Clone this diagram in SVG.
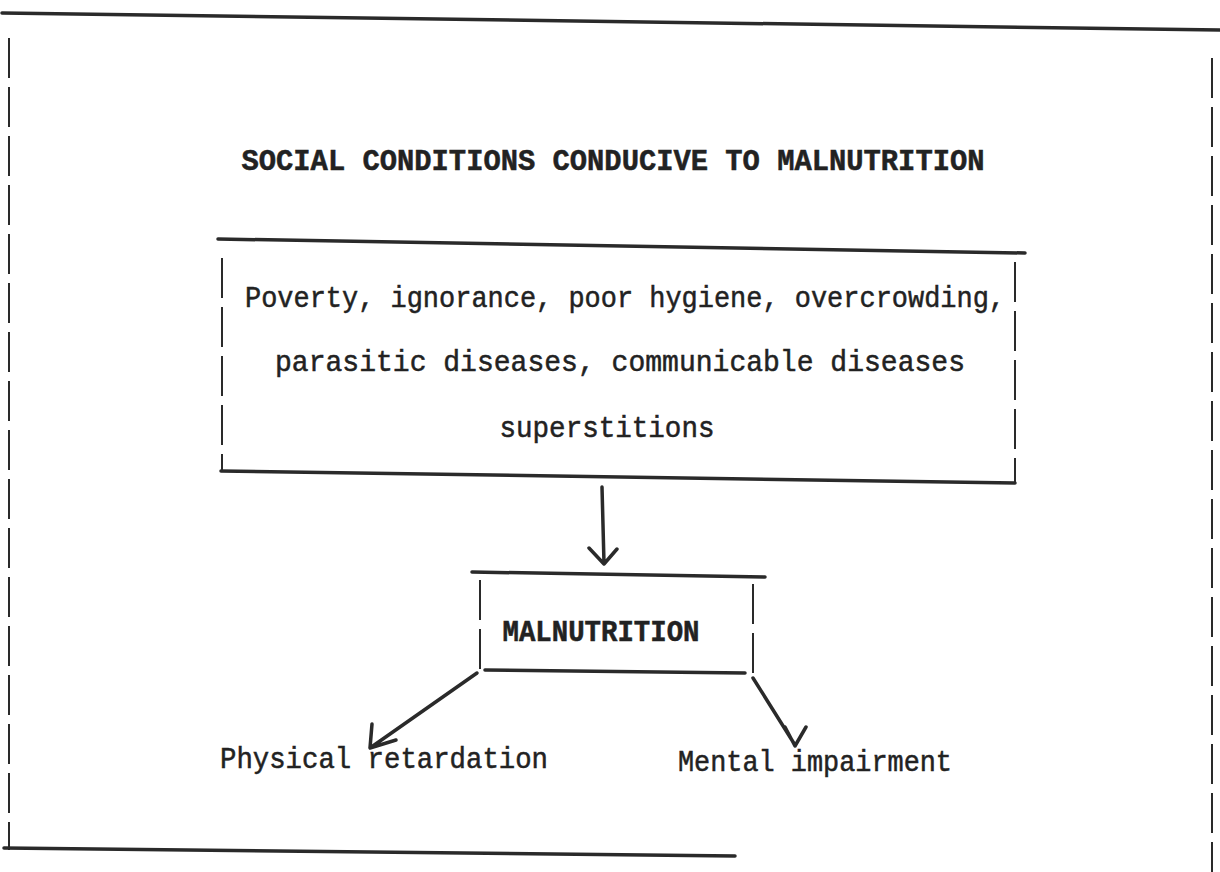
<svg xmlns="http://www.w3.org/2000/svg" width="1220" height="872" viewBox="0 0 1220 872">
<style>
.solid{stroke:#2a2a2a;stroke-width:3.5;fill:none;stroke-linecap:round}
.dash{stroke:#2a2a2a;stroke-width:2;fill:none;stroke-dasharray:40 9}
.txt{font-family:"Liberation Mono","Courier New",monospace;fill:#222;font-size:29px;stroke:#222;stroke-width:0.5}
.bold{font-weight:bold}
.arrow{stroke:#2a2a2a;stroke-width:3.5;fill:none;stroke-linecap:round;stroke-linejoin:round}
</style>
<rect width="1220" height="872" fill="#ffffff"/>
<g id="frame">
<line class="solid" x1="2" y1="13" x2="1220" y2="30"/>
<line class="dash" x1="9" y1="38" x2="9" y2="850"/>
<line class="dash" x1="1212" y1="58" x2="1212" y2="872"/>
<line class="solid" x1="4" y1="848" x2="735" y2="856"/>
</g>
<g id="title">
<text class="txt bold" x="613" y="170" text-anchor="middle" font-size="30" textLength="743" lengthAdjust="spacingAndGlyphs">SOCIAL CONDITIONS CONDUCIVE TO MALNUTRITION</text>
</g>
<g id="causes">
<line class="solid" x1="218" y1="239" x2="1025" y2="253"/>
<line class="solid" x1="221" y1="471" x2="1015" y2="483"/>
<line class="dash" x1="222" y1="258" x2="222" y2="471"/>
<line class="dash" x1="1015" y1="262" x2="1015" y2="483"/>
<text class="txt" x="625" y="307" text-anchor="middle" textLength="760" lengthAdjust="spacingAndGlyphs">Poverty, ignorance, poor hygiene, overcrowding,</text>
<text class="txt" x="620" y="371" text-anchor="middle" textLength="690" lengthAdjust="spacingAndGlyphs">parasitic diseases, communicable diseases</text>
<text class="txt" x="607" y="437" text-anchor="middle" textLength="215" lengthAdjust="spacingAndGlyphs">superstitions</text>
</g>
<g id="malnutrition">
<line class="solid" x1="472" y1="572" x2="765" y2="577"/>
<line class="solid" x1="485" y1="670" x2="745" y2="673"/>
<line class="dash" x1="480" y1="580" x2="480" y2="672"/>
<line class="dash" x1="753" y1="584" x2="753" y2="677"/>
<text class="txt bold" x="601" y="641" text-anchor="middle" textLength="197" lengthAdjust="spacingAndGlyphs">MALNUTRITION</text>
</g>
<g id="physical">
<text class="txt" x="220" y="768" textLength="328" lengthAdjust="spacingAndGlyphs">Physical retardation</text>
</g>
<g id="mental">
<text class="txt" x="678" y="771" textLength="274" lengthAdjust="spacingAndGlyphs">Mental impairment</text>
</g>
<g id="connectors">
<path class="arrow" d="M602 487 L604 563 M589 548 L604 564 L617 549"/>
<path class="arrow" d="M477 673 L370 748 M372 724 L370 748 L396 740"/>
<path class="arrow" d="M753 678 L795 745 M785 727 L795 746 L806 727"/>
</g>
</svg>
